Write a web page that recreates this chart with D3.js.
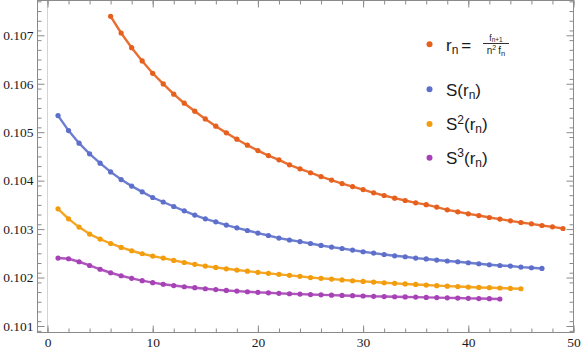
<!DOCTYPE html>
<html><head><meta charset="utf-8">
<script src="https://cdn.jsdelivr.net/npm/d3@7"></script>
<style>body{margin:0;background:#fff}svg{display:block}</style>
</head><body>
<svg id="c" width="581" height="353"></svg>
<script>
// r_n, n = 6..49
const rnStart = 6;
const rnValues = [0.107392,0.107047,0.106744,0.106470,0.106216,0.105996,0.105784,0.105598,0.105433,0.105274,
0.105124,0.104986,0.104856,0.104732,0.104621,0.104518,0.104429,0.104326,0.104243,0.104163,
0.104085,0.104012,0.103940,0.103878,0.103816,0.103748,0.103693,0.103639,0.103590,0.103542,
0.103505,0.103454,0.103398,0.103357,0.103315,0.103280,0.103239,0.103206,0.103171,0.103136,
0.103109,0.103074,0.103047,0.103012];
// S(r_n), n = 1..47
const s1Start = 1;
const s1Values = [0.105342,0.105033,0.104773,0.104553,0.104361,0.104181,0.104023,0.103887,0.103769,0.103652,
0.103559,0.103466,0.103377,0.103289,0.103212,0.103151,0.103082,0.103027,0.102971,0.102918,
0.102868,0.102814,0.102775,0.102742,0.102703,0.102662,0.102629,0.102600,0.102567,0.102532,
0.102505,0.102476,0.102449,0.102429,0.102402,0.102384,0.102361,0.102342,0.102326,0.102305,
0.102285,0.102264,0.102249,0.102237,0.102216,0.102202,0.102188];
// S^2(r_n), n = 1..45
const s2Start = 1;
const s2Values = [0.103419,0.103212,0.103041,0.102897,0.102794,0.102703,0.102621,0.102553,0.102491,0.102443,
0.102402,0.102353,0.102311,0.102272,0.102237,0.102208,0.102181,0.102155,0.102132,0.102107,
0.102087,0.102066,0.102045,0.102025,0.102000,0.101984,0.101969,0.101951,0.101934,0.101920,
0.101907,0.101893,0.101880,0.101868,0.101858,0.101845,0.101833,0.101823,0.101814,0.101804,
0.101796,0.101790,0.101784,0.101775,0.101769];
// S^3(r_n), n = 1..43
const s3Start = 1;
const s3Values = [0.102402,0.102388,0.102326,0.102249,0.102171,0.102099,0.102037,0.101984,0.101936,0.101895,
0.101862,0.101835,0.101810,0.101790,0.101769,0.101751,0.101734,0.101720,0.101707,0.101695,
0.101685,0.101674,0.101666,0.101658,0.101649,0.101643,0.101637,0.101631,0.101625,0.101619,
0.101612,0.101608,0.101604,0.101600,0.101596,0.101590,0.101586,0.101581,0.101577,0.101571,
0.101567,0.101563,0.101557];

const xTickValues = [0,10,20,30,40,50];
const yTickValues = [0.101,0.102,0.103,0.104,0.105,0.106,0.107];
const yTickLabels = ["0.101","0.102","0.103","0.104","0.105","0.106","0.107"];

const colors = ["#e65f1c","#5d6fca","#f39c0c","#a642b6"];

const series = [
  {start: rnStart, values: rnValues, color: colors[0]},
  {start: s1Start, values: s1Values, color: colors[1]},
  {start: s2Start, values: s2Values, color: colors[2]},
  {start: s3Start, values: s3Values, color: colors[3]}
];

const svg = d3.select("#c");
const L = 37.5, R = 573.5, T = 0.5, B = 332.5;
const x = d3.scaleLinear().domain([-0.97, 50]).range([37.3, 573.5]);
const y = d3.scaleLinear().domain([0.10087, 0.107718]).range([332.3, 0.5]);

const frameColor = "#8a8a8a";
const serifFont = '"Liberation Serif", serif';
const sansFont = '"Liberation Sans", sans-serif';

// x = 0 axis line
svg.append("line").attr("x1", x(0)).attr("x2", x(0)).attr("y1", T).attr("y2", B)
  .attr("stroke", "#d4d4d4").attr("stroke-width", 1);

const yMinor = d3.range(0.1009, 0.10772, 0.0002).filter(v => v < 0.107718);
const xMinor = d3.range(0, 51, 2);

function styleAxis(g) {
  g.attr("font-family", null).attr("font-size", null);
  g.select(".domain").remove();
  g.selectAll(".tick line").attr("stroke", frameColor);
  g.selectAll("text").style("font-family", serifFont).style("font-size", "13.5px").attr("fill", "#1a1a1a");
}

// left
svg.append("g").attr("transform", `translate(${L},0)`)
  .call(d3.axisLeft(y).tickValues(yMinor).tickSize(-4).tickFormat("")).call(styleAxis);
svg.append("g").attr("transform", `translate(${L},0)`)
  .call(d3.axisLeft(y).tickValues(yTickValues).tickSize(-7).tickPadding(4)
    .tickFormat((d, i) => yTickLabels[i])).call(styleAxis);
// right
svg.append("g").attr("transform", `translate(${R},0)`)
  .call(d3.axisRight(y).tickValues(yMinor).tickSize(-4).tickFormat("")).call(styleAxis);
svg.append("g").attr("transform", `translate(${R},0)`)
  .call(d3.axisRight(y).tickValues(yTickValues).tickSize(-7).tickFormat("")).call(styleAxis);
// bottom
svg.append("g").attr("transform", `translate(0,${B})`)
  .call(d3.axisBottom(x).tickValues(xMinor).tickSize(-4).tickFormat("")).call(styleAxis);
svg.append("g").attr("transform", `translate(0,${B})`)
  .call(d3.axisBottom(x).tickValues(xTickValues).tickSize(-7).tickPadding(5).tickFormat(d3.format("d"))).call(styleAxis);
// top
svg.append("g").attr("transform", `translate(0,${T})`)
  .call(d3.axisTop(x).tickValues(xMinor).tickSize(-4).tickFormat("")).call(styleAxis);
svg.append("g").attr("transform", `translate(0,${T})`)
  .call(d3.axisTop(x).tickValues(xTickValues).tickSize(-7).tickFormat("")).call(styleAxis);

// frame
svg.append("rect").attr("x", L).attr("y", T).attr("width", R - L).attr("height", B - T)
  .attr("fill", "none").attr("stroke", frameColor).attr("stroke-width", 1);

// series
const line = d3.line().x(d => x(d.n)).y(d => y(d.v)).curve(d3.curveLinear);
series.forEach(s => {
  const pts = s.values.map((v, i) => ({n: s.start + i, v}));
  svg.append("path").datum(pts).attr("d", line).attr("fill", "none")
    .attr("stroke", s.color).attr("stroke-width", 2.4).attr("stroke-opacity", 0.9)
    .attr("stroke-linejoin", "round");
  svg.append("g").selectAll("circle").data(pts).join("circle")
    .attr("cx", d => x(d.n)).attr("cy", d => y(d.v)).attr("r", 2.6).attr("fill", s.color);
});

// legend
const lg = svg.append("g").style("font-family", sansFont).attr("fill", "#1a1a1a");
const dotX = 429.5, textX = 446;
const rowY = [44.3, 89.3, 124, 157.7];
rowY.forEach((ry, i) => lg.append("circle").attr("cx", dotX).attr("cy", ry).attr("r", 3).attr("fill", colors[i]));

// row 1: r_n = f_{n+1} / (n^2 f_n)
{
  const t = lg.append("text").attr("x", textX).attr("y", 50.5).attr("font-size", 17);
  t.append("tspan").text("r");
  t.append("tspan").attr("font-size", 12).attr("dy", 3).text("n");
  t.append("tspan").attr("dy", -3).attr("dx", 3).text("=");
  lg.append("line").attr("x1", 483).attr("x2", 509).attr("y1", 43.5).attr("y2", 43.5)
    .attr("stroke", "#1a1a1a").attr("stroke-width", 0.9);
  const num = lg.append("text").attr("x", 496).attr("y", 40.5).attr("font-size", 8.5).attr("text-anchor", "middle");
  num.append("tspan").text("f");
  num.append("tspan").attr("font-size", 6.5).attr("dy", 1.5).text("n+1");
  const den = lg.append("text").attr("x", 496).attr("y", 53.5).attr("font-size", 10).attr("text-anchor", "middle");
  den.append("tspan").text("n");
  den.append("tspan").attr("font-size", 7).attr("dy", -4).text("2");
  den.append("tspan").attr("dy", 4).attr("dx", 2).text("f");
  den.append("tspan").attr("font-size", 7.5).attr("dy", 2).text("n");
}
// rows 2-4
function sRow(yb, sup) {
  const t = lg.append("text").attr("x", textX).attr("y", yb).attr("font-size", 17);
  t.append("tspan").text("S");
  if (sup) t.append("tspan").attr("font-size", 12).attr("dy", -6.5).text(sup);
  t.append("tspan").attr("dy", sup ? 6.5 : 0).text("(r");
  t.append("tspan").attr("font-size", 12).attr("dy", 3).text("n");
  t.append("tspan").attr("dy", -3).text(")");
}
sRow(95.5, null);
sRow(130.2, "2");
sRow(163.9, "3");
</script>
</body></html>
